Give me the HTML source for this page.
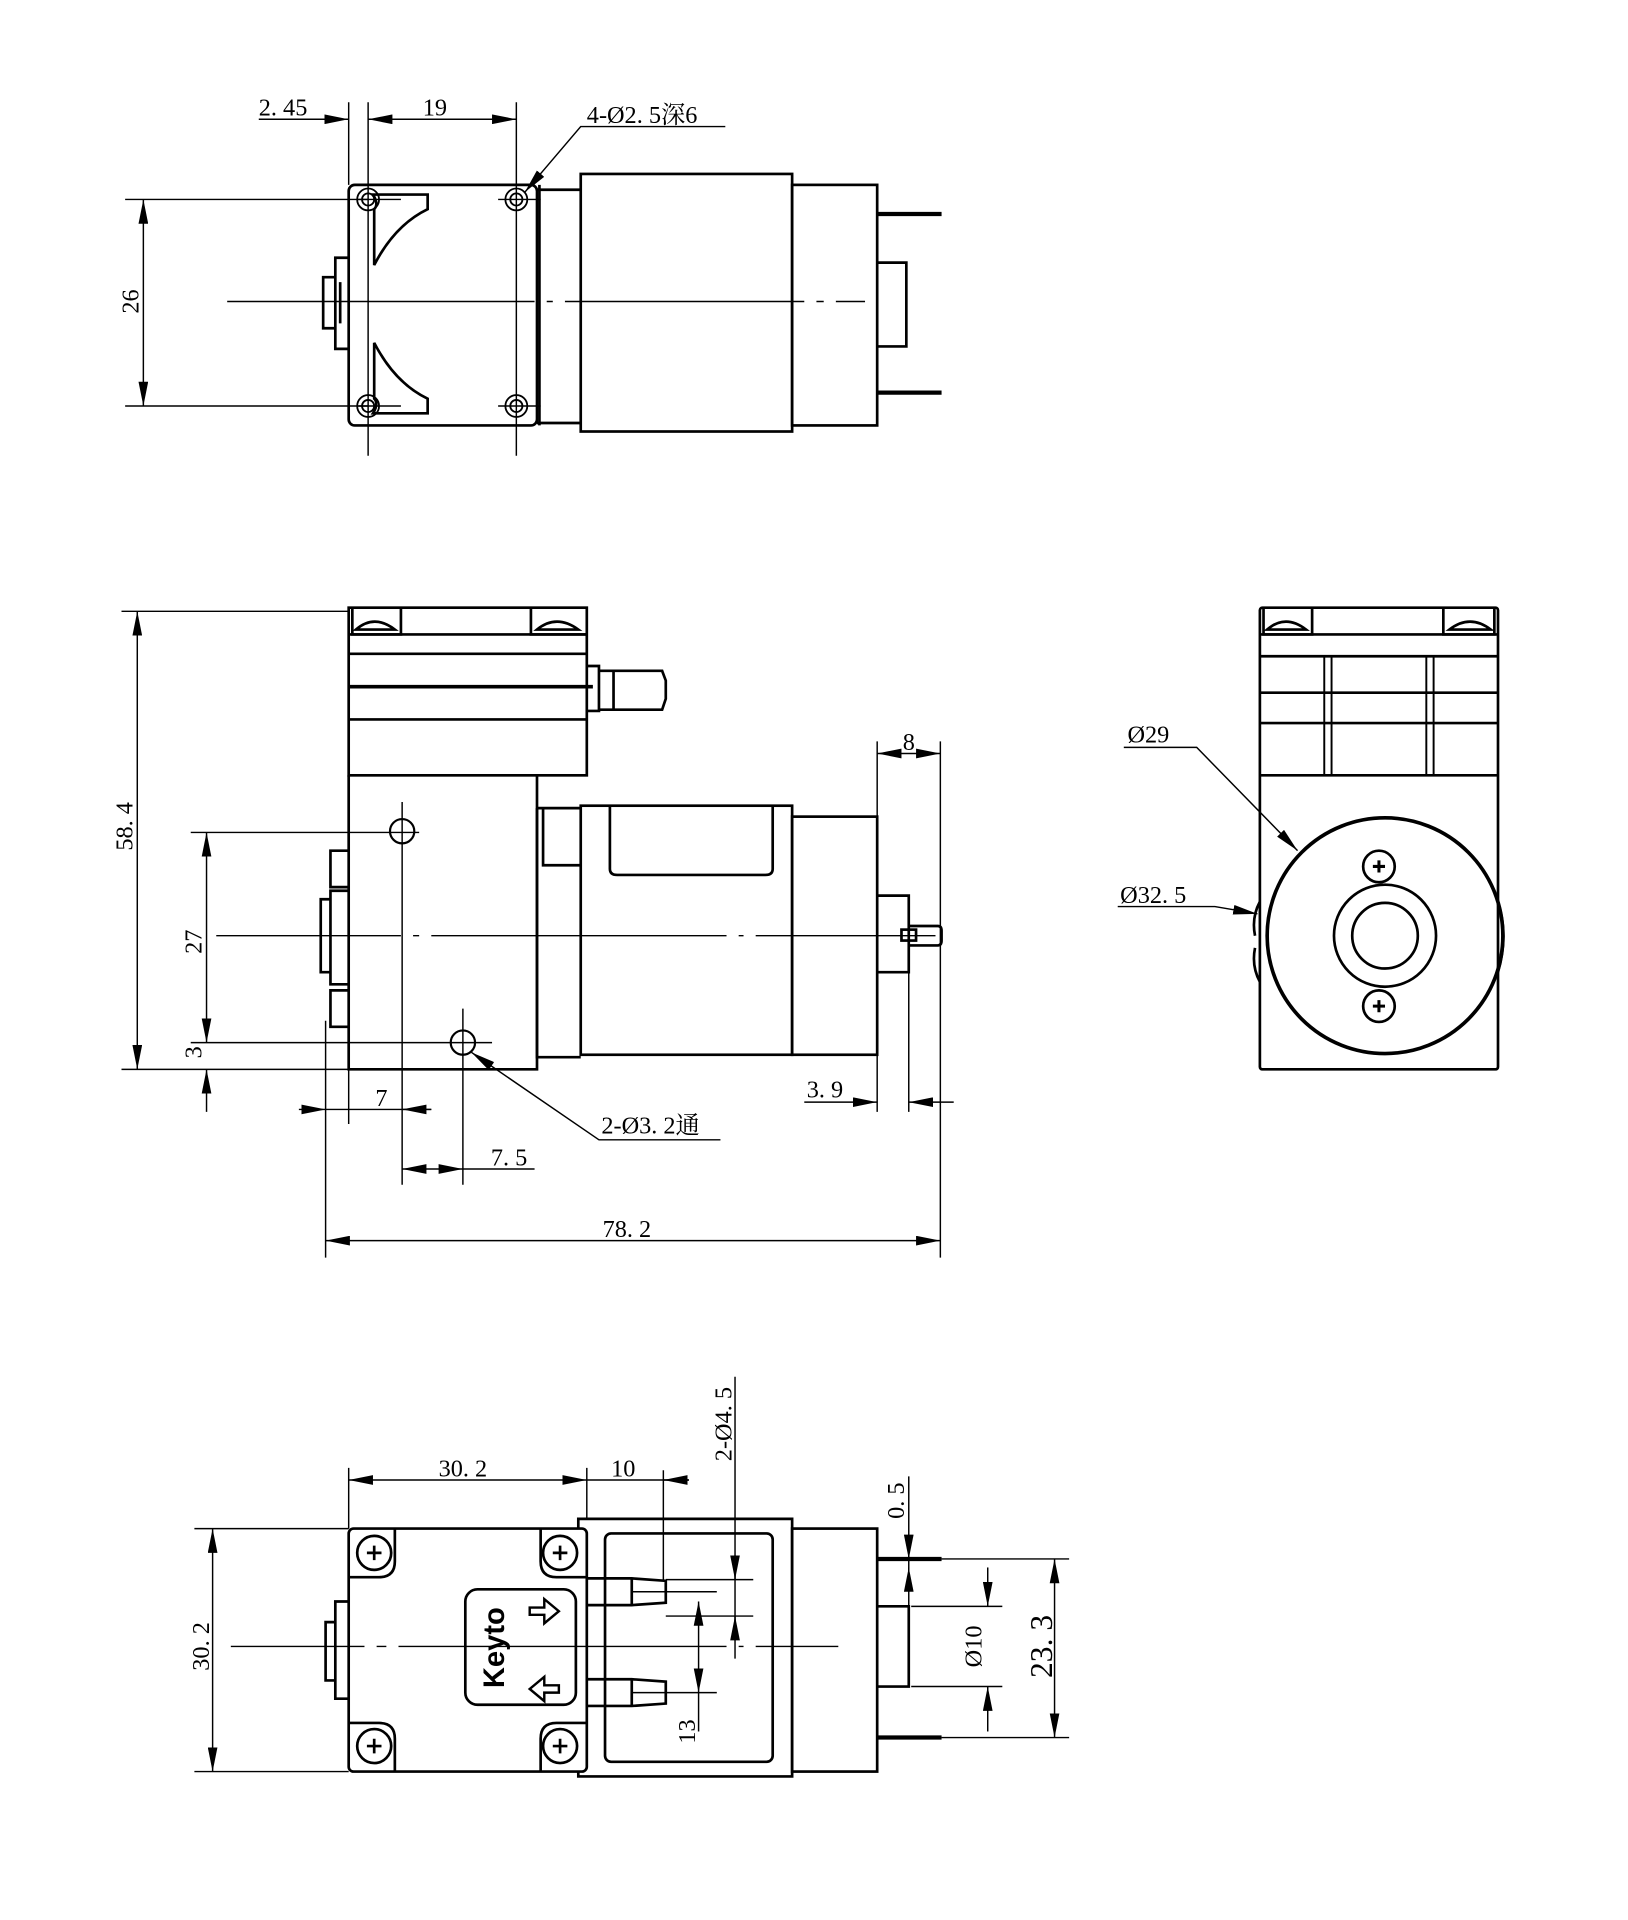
<!DOCTYPE html>
<html><head><meta charset="utf-8"><style>
html,body{margin:0;padding:0;background:#fff}
svg{display:block}
text{font-family:"Liberation Serif","Noto Serif CJK SC",serif;font-size:20px;fill:#000}
</style></head><body>
<svg width="1628" height="1920" viewBox="0 0 1340 1580" xmlns="http://www.w3.org/2000/svg">
<defs>
<marker id="a" viewBox="0 0 20 8" refX="20" refY="4" markerWidth="20" markerHeight="8" markerUnits="userSpaceOnUse" orient="auto-start-reverse"><path d="M0,0L20,4L0,8z" fill="#000"/></marker>
</defs>
<g fill="none" stroke="#000" stroke-width="1.2">
<!-- TOP VIEW -->
<g stroke-width="2.2">
<rect x="287" y="152" width="155" height="198" rx="5"/>
<path d="M442,156H478M442,348H478M444,152V350"/>
<rect x="478" y="143" width="174" height="212"/>
<rect x="652" y="152" width="70" height="198"/>
<path d="M722,176H775M722,323H775" stroke-width="3.5"/>
<path d="M722,216H746V285H722"/>
<path d="M287,212H276V287H287M276,228H266V270H276M280,232V266"/>
<path d="M307,160H352V172Q325,185 308,218V172Q312,168 307,160Z"/>
<path d="M307,340H352V328Q325,315 308,282V328Q312,332 307,340Z"/>
</g>
<g stroke-width="1.5">
<circle cx="303" cy="164" r="9"/><circle cx="303" cy="164" r="5"/>
<circle cx="425" cy="164" r="9"/><circle cx="425" cy="164" r="5"/>
<circle cx="303" cy="334" r="9"/><circle cx="303" cy="334" r="5"/>
<circle cx="425" cy="334" r="9"/><circle cx="425" cy="334" r="5"/>
</g>
<path d="M303,84V375M287,84V152M425,84V375M410,164H445M410,334H445M295,164H330M295,334H330"/>
<path d="M187,248H440M450,248H455M465,248H662M672,248H678M688,248H712"/>
<path d="M213,98H287" marker-end="url(#a)"/>
<path d="M303,98H425" marker-start="url(#a)" marker-end="url(#a)"/>
<path d="M103,164H303M103,334H303"/>
<path d="M118,164V334" marker-start="url(#a)" marker-end="url(#a)"/>
<path d="M597,104H478L432,158" marker-end="url(#a)"/>
<!-- SIDE VIEW -->
<g stroke-width="2.2">
<rect x="287" y="500" width="196" height="138"/>
<path d="M287,522H483M287,538H483M287,592H483"/>
<path d="M287,565H488" stroke-width="3"/>
<path d="M290,500V522H330V500M437,500V522H482"/>
<path d="M293,518Q308,505 325,518Z"/>
<path d="M442,518Q458,505 476,518Z"/>
<path d="M483,548H493V585H483M493,552H505L545,552L548,560V575L545,584H505L493,584M505,552V584"/>
<path d="M287,638V880H442V638"/>
<path d="M287,700H272V730H287M287,733H272V810H287M272,740H264V800H272M287,815H272V845H287"/>
<path d="M442,665H478M442,665V870H478M447,665V712H478"/>
<rect x="478" y="663" width="174" height="205"/>
<path d="M502,663V715Q502,720 508,720H630Q636,720 636,715V663"/>
<rect x="652" y="672" width="70" height="196"/>
<path d="M722,737H748V800H722"/>
<path d="M748,762H772Q775,762 775,766V774Q775,778 772,778H748"/>
<rect x="742" y="765" width="12" height="9"/>
<circle cx="331" cy="684" r="10" stroke-width="1.8"/>
<circle cx="381" cy="858" r="10" stroke-width="1.8"/>
</g>
<path d="M178,770H330M340,770H345M355,770H598M608,770H612M622,770H770"/>
<path d="M331,660V975M157,685H345M381,830V975M157,858H405"/>
<path d="M100,503H287M100,880H287"/>
<path d="M113,503V880" marker-start="url(#a)" marker-end="url(#a)"/>
<path d="M170,685V858" marker-start="url(#a)" marker-end="url(#a)"/>
<path d="M170,915V880" marker-end="url(#a)"/>
<path d="M268,840V1035M287,880V925M774,610V1035M722,610V915M748,800V915"/>
<path d="M246,913H268" marker-end="url(#a)"/>
<path d="M355,913H331" marker-end="url(#a)"/>
<path d="M268,913H355"/>
<path d="M331,962H381" marker-start="url(#a)" marker-end="url(#a)"/>
<path d="M381,962H440"/>
<path d="M268,1021H774" marker-start="url(#a)" marker-end="url(#a)"/>
<path d="M722,620H774" marker-start="url(#a)" marker-end="url(#a)"/>
<path d="M662,907H722" marker-end="url(#a)"/>
<path d="M785,907H748" marker-end="url(#a)"/>
<path d="M593,938H493L388,866" marker-end="url(#a)"/>
<!-- FRONT VIEW -->
<g stroke-width="2.2">
<rect x="1037" y="500" width="196" height="380" rx="2"/>
<path d="M1037,522H1233M1037,540H1233M1037,570H1233M1037,595H1233M1037,638H1233"/>
<path d="M1040,500V522H1080V500M1188,500V522H1230V500"/>
<path d="M1043,518Q1058,505 1075,518Z"/>
<path d="M1193,518Q1210,505 1227,518Z"/>
<path d="M1090,540V638M1096,540V638M1174,540V638M1180,540V638" stroke-width="1.6"/>
<circle cx="1140" cy="770" r="97" stroke-width="3"/>
<circle cx="1140" cy="770" r="42"/>
<circle cx="1140" cy="770" r="27"/>
<circle cx="1135" cy="713" r="13"/>
<circle cx="1135" cy="828" r="13"/>
<path d="M1037,742Q1030,755 1033,770M1033,780Q1030,795 1037,808M1233,742Q1242,770 1233,800"/>
</g>
<path d="M1130,713h10M1135,708v10M1130,828h10M1135,823v10" stroke-width="2.5"/>
<path d="M925,615H985L1068,700" marker-end="url(#a)"/>
<path d="M920,746H1000L1035,752" marker-end="url(#a)"/>
<!-- BOTTOM VIEW -->
<g stroke-width="2.2">
<rect x="287" y="1258" width="196" height="200" rx="4"/>
<path d="M287,1298H312Q325,1298 325,1285V1258M483,1298H458Q445,1298 445,1285V1258M287,1418H312Q325,1418 325,1431V1458M483,1418H458Q445,1418 445,1431V1458"/>
<circle cx="308" cy="1278" r="14"/><circle cx="461" cy="1278" r="14"/>
<circle cx="308" cy="1437" r="14"/><circle cx="461" cy="1437" r="14"/>
<rect x="383" y="1308" width="91" height="95" rx="10"/>
<path d="M287,1318H276V1398H287M276,1335H268V1383H276"/>
<path d="M476,1258V1250H652V1462H476V1458"/>
<rect x="498" y="1262" width="138" height="188" rx="5"/>
<path d="M483,1299L520,1299L548,1301V1319L520,1321L483,1321M520,1299V1321"/>
<path d="M483,1382L520,1382L548,1384V1402L520,1404L483,1404M520,1382V1404"/>
<rect x="652" y="1258" width="70" height="200"/>
<path d="M722,1322H748V1388H722"/>
<path d="M722,1283H775M722,1430H775" stroke-width="3.5"/>
<path d="M436,1323h12v-7l12,10l-12,10v-7h-12z" stroke-width="2"/>
<path d="M460,1387h-12v-7l-12,10l12,10v-7h12z" stroke-width="2"/>
</g>
<g stroke-width="2.2">
<path d="M302,1278h12M308,1272v12M455,1278h12M461,1272v12M302,1437h12M308,1431v12M455,1437h12M461,1431v12"/>
</g>
<path d="M190,1355H300M310,1355H318M328,1355H598M608,1355H612M622,1355H690"/>
<path d="M287,1208V1258M483,1208V1250M546,1210V1300M605,1133V1365M748,1215V1330"/>
<path d="M287,1218H483" marker-start="url(#a)" marker-end="url(#a)"/>
<path d="M567,1218H546" marker-end="url(#a)"/>
<path d="M483,1218H567"/>
<path d="M605,1280V1300" marker-end="url(#a)"/>
<path d="M605,1350V1330" marker-end="url(#a)"/>
<path d="M548,1300H620M548,1330H620M520,1310H590M520,1393H590"/>
<path d="M575,1318V1393" marker-start="url(#a)" marker-end="url(#a)"/>
<path d="M575,1393V1425"/>
<path d="M160,1258H287M160,1458H287"/>
<path d="M175,1258V1458" marker-start="url(#a)" marker-end="url(#a)"/>
<path d="M748,1263V1283" marker-end="url(#a)"/>
<path d="M748,1310V1290" marker-end="url(#a)"/>
<path d="M750,1322H825M750,1388H825M775,1283H880M775,1430H880"/>
<path d="M813,1290V1322" marker-end="url(#a)"/>
<path d="M813,1425V1388" marker-end="url(#a)"/>
<path d="M868,1283V1430" marker-start="url(#a)" marker-end="url(#a)"/>
</g>
<!-- TEXT -->
<text x="213" y="95">2. 45</text>
<text x="348" y="95">19</text>
<text x="483" y="101">4-Ø2. 5深6</text>
<text transform="translate(114,248) rotate(-90)" text-anchor="middle">26</text>
<text transform="translate(109,680) rotate(-90)" text-anchor="middle">58. 4</text>
<text transform="translate(166,775) rotate(-90)" text-anchor="middle">27</text>
<text transform="translate(166,866) rotate(-90)" text-anchor="middle">3</text>
<text x="309" y="910">7</text>
<text x="404" y="959">7. 5</text>
<text x="495" y="933">2-Ø3. 2通</text>
<text x="496" y="1018">78. 2</text>
<text x="743" y="617">8</text>
<text x="664" y="903">3. 9</text>
<text x="928" y="611">Ø29</text>
<text x="922" y="743">Ø32. 5</text>
<text x="361" y="1215">30. 2</text>
<text x="503" y="1215">10</text>
<text transform="translate(602,1172) rotate(-90)" text-anchor="middle">2-Ø4. 5</text>
<text transform="translate(744,1235) rotate(-90)" text-anchor="middle">0. 5</text>
<text transform="translate(172,1355) rotate(-90)" text-anchor="middle">30. 2</text>
<text transform="translate(572,1425) rotate(-90)" text-anchor="middle">13</text>
<text transform="translate(808,1355) rotate(-90)" text-anchor="middle">Ø10</text>
<text transform="translate(866,1355) rotate(-90)" text-anchor="middle" style="font-size:26px">23. 3</text>
<text transform="translate(415,1356) rotate(-90)" text-anchor="middle" style="font-family:'Liberation Sans',sans-serif;font-weight:bold;font-size:24px">Keyto</text>
</svg>
</body></html>
